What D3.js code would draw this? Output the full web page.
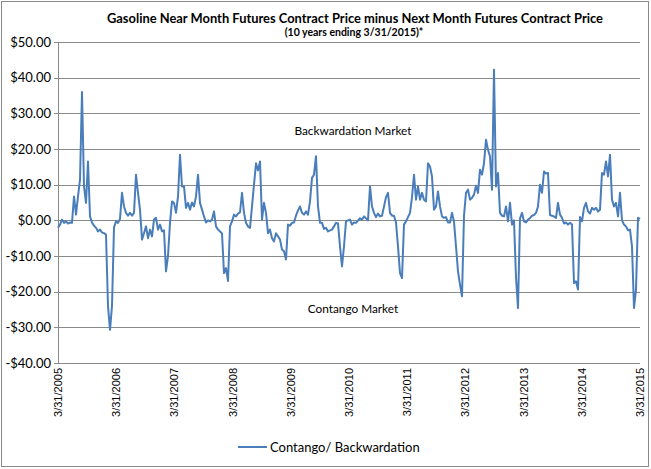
<!DOCTYPE html>
<html><head><meta charset="utf-8">
<script src="https://cdn.jsdelivr.net/npm/d3@7"></script>
<style>body{margin:0;background:#fff}svg{display:block}</style>
</head><body>
<svg id="c" width="651" height="469"></svg>
<script>
// ---- data ----
const startDate = "3/31/2005";
const endDate = "3/31/2015";
// values sampled at equal time steps from start to end
const values = [
 -2.1,-1.2,0.2,-0.7,-0.3,-0.9,-0.6,-0.7,6.7,1.6,
 6.7,11.4,36,9.5,4.9,16.5,1.1,-0.6,-1.5,-2.1,
 -3.1,-2.6,-3.4,-3.6,-4.0,-24,-30.7,-24,-2,-0.3,
 -0.7,0.4,7.7,3.9,2.1,1.3,2.1,1.3,2.1,12.8,
 7.7,3,-5.4,-3.6,-1.7,-5,-2.6,-4.5,0.2,
 0.7,-2.6,-1.2,-3.1,-2.8,-14.3,-10,-0.7,5.3,4.9,
 2.1,6.7,18.4,9.5,9.5,3.5,4.9,3,5,3.9,
 6.7,12.8,4.9,3,1.1,-0.6,0,-0.3,0.2,2.5,
 -1.7,-2.6,-3.1,-3.7,-14.8,-13.4,-17,-1.7,-0.3,1.6,
 1.1,1.9,2.2,7.7,2.1,-0.7,-1.7,-2.1,3.9,
 10,16,14,16.5,0.2,4.9,2.1,-3.6,-2.6,-5,
 -5.9,-3.6,-4.5,-5.4,-8.2,-8.7,-11,-1.2,-1.5,-0.7,
 -0.6,1.3,2.8,3.9,2.1,1.6,2.5,1.6,5.3,11.9,
 12.8,18,3.9,-0.7,-0.7,-2.4,-2.1,-3.1,-2.8,-2.6,
 -1.7,-0.7,-0.9,-7.3,-12.9,-7.3,-0.3,0,0.2,
 -1.2,-0.6,-0.7,-0.1,0.6,0.2,1.1,0.6,0,9.5,
 3.9,2.1,0.9,1.9,1.1,1.3,3.9,6.5,7.7,2.1,
 1.3,1.3,-0.6,-7.3,-14.8,-16.2,-1.2,-0.3,0.9,2.1,
 6.5,12.8,5.8,9.5,5.8,7.7,5.8,5.3,16,15.1,
 12.3,3,3.9,8.1,3.9,1.1,0.7,0.9,-0.6,
 -0.6,2.1,-0.4,-7.3,-14.3,-18,-21.3,1.3,7.7,8.6,
 5.8,6.3,7.2,9.7,7.7,14.2,12.8,16,22.6,19.8,
 17.9,8.6,42.2,9.5,13.3,2.1,1.3,1.1,3.9,-0.3,
 4.9,-1.2,0,-16,-24.6,0.5,2.1,-0.3,-0.6,0.2,
 0.6,1.3,1.5,2.1,3.9,10,7.7,13.7,13.1,
 13.3,1.5,1.3,1.1,0.7,4.9,1.6,0.7,-0.9,-0.6,
 -1.2,-0.7,-1.2,-17.6,-17.1,-19.4,0.9,-0.3,3.5,4.9,
 2.5,1.9,3.5,3,3.5,2.5,3,13.3,12.8,16.5,
 12.3,18.4,5.8,3.9,4.9,1.1,7.7,0,-1.2,-1.7,
 -2.8,-2.6,-7.3,-24.6,-19.4,0.7,0.4
];
const yTicks = [50,40,30,20,10,0,-10,-20,-30,-40];
const xTickLabels = ["3/31/2005","3/31/2006","3/31/2007","3/31/2008","3/31/2009",
  "3/31/2010","3/31/2011","3/31/2012","3/31/2013","3/31/2014","3/31/2015"];
const title = "Gasoline Near Month Futures Contract Price minus Next Month Futures Contract Price";
const subtitle = "(10 years ending 3/31/2015)*";
const seriesName = "Contango/ Backwardation";
const notes = [{text:"Backwardation Market", v:25}, {text:"Contango Market", v:-25}];

// ---- drawing ----
const parse = d3.timeParse("%m/%d/%Y");
const t0 = parse(startDate), t1 = parse(endDate);
const n = values.length;
const idxToTime = d3.scaleLinear().domain([0, n-1]).range([t0.getTime(), t1.getTime()]);
const data = values.map((v,i)=>({date:new Date(idxToTime(i)), v}));

const L=58, R=640, T=42, B=363;
const x = d3.scaleTime().domain([t0,t1]).range([L,R]);
const y = d3.scaleLinear().domain([-40,50]).range([B,T]);
const svg = d3.select("#c");
const font = "Lato, 'Open Sans', sans-serif";
const grid = "#8a8a8a";

svg.append("rect").attr("x",1.5).attr("y",1.5).attr("width",647).attr("height",465)
  .attr("fill","#fff").attr("stroke","#8a8a8a").attr("stroke-width",1);

// gridlines
svg.append("g").selectAll("line").data(yTicks).join("line")
  .attr("x1",L-4).attr("x2",R)
  .attr("y1",d=>Math.round(y(d))+0.5).attr("y2",d=>Math.round(y(d))+0.5)
  .attr("stroke",grid).attr("stroke-width",1);
svg.append("line").attr("x1",L+0.5).attr("x2",L+0.5).attr("y1",T).attr("y2",B+1)
  .attr("stroke",grid);

// y labels
const yFmt = d => (d<0?"-":"") + "$" + Math.abs(d).toFixed(2);
svg.append("g").selectAll("text").data(yTicks).join("text")
  .attr("x",L-7).attr("y",d=>y(d)+4.5).attr("text-anchor","end")
  .attr("font-family",font).attr("font-size",13).attr("fill","#000")
  .text(yFmt);

// x labels
svg.append("g").selectAll("text").data(xTickLabels).join("text")
  .attr("transform",d=>`translate(${x(parse(d))+4},${B+5}) rotate(-90)`)
  .attr("text-anchor","end")
  .attr("font-family","'Liberation Sans', Arial, sans-serif").attr("font-size",11).attr("fill","#000")
  .text(d=>d);

// line
const line = d3.line().x(d=>x(d.date)).y(d=>y(d.v));
svg.append("path").datum(data).attr("d",line).attr("fill","none")
  .attr("stroke","#4a7ebb").attr("stroke-width",2).attr("stroke-linejoin","round");

// notes
svg.append("g").selectAll("text").data(notes).join("text")
  .attr("x",353).attr("y",d=>y(d.v)+3.5).attr("text-anchor","middle")
  .attr("font-family",font).attr("font-size",11.8).attr("fill","#000").text(d=>d.text);

// title
svg.append("text").attr("x",355).attr("y",23).attr("text-anchor","middle")
  .attr("font-family",font).attr("font-weight","bold").attr("font-size",12.9).text(title);
svg.append("text").attr("x",354).attr("y",36).attr("text-anchor","middle")
  .attr("font-family",font).attr("font-weight","bold").attr("font-size",10.5).text(subtitle);

// legend
svg.append("line").attr("x1",238).attr("x2",267).attr("y1",447).attr("y2",447)
  .attr("stroke","#4a7ebb").attr("stroke-width",2);
svg.append("text").attr("x",270).attr("y",451.5).attr("font-family",font)
  .attr("font-size",13).text(seriesName);
</script>
</body></html>
